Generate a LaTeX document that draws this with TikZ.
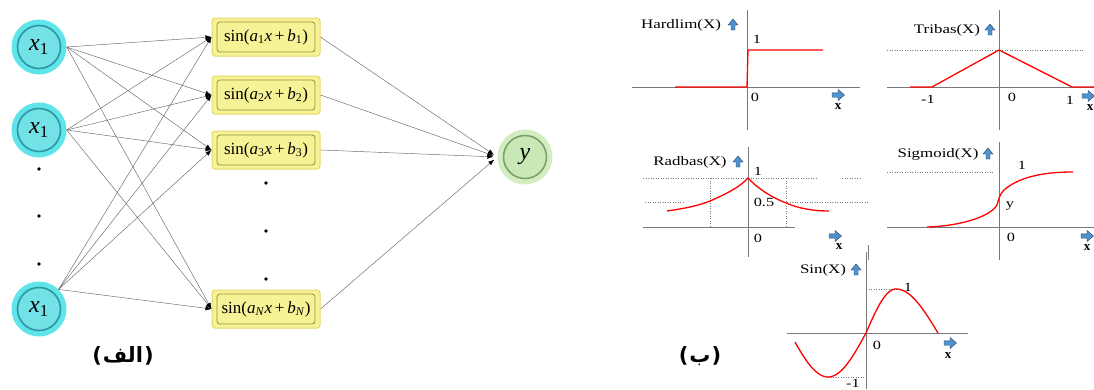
\documentclass[tikz,border=0pt]{standalone}
\usepackage{fontspec}
\setmainfont{Liberation Serif}
\newfontfamily\plotfont[FakeStretch=1.3]{Liberation Serif}
\newfontfamily\arabicfont[Script=Arabic]{DejaVu Sans}
\newfontfamily\parenfont{DejaVu Sans}
\TeXXeTstate=1
\usetikzlibrary{arrows.meta}
\definecolor{cyanout}{RGB}{95,228,234}
\definecolor{cyanin}{RGB}{115,226,230}
\definecolor{cyanring}{RGB}{45,150,160}
\definecolor{grnout}{RGB}{210,238,192}
\definecolor{grnin}{RGB}{200,232,182}
\definecolor{grnring}{RGB}{125,160,110}
\definecolor{yelfill}{RGB}{246,242,150}
\definecolor{yelborder}{RGB}{228,218,105}
\definecolor{yelinner}{RGB}{150,140,60}
\definecolor{arrblue}{RGB}{80,145,205}
\definecolor{arrdark}{RGB}{35,65,105}
\definecolor{axisgray}{RGB}{120,120,120}
\begin{document}
\begin{tikzpicture}[x=1pt,y=-1pt,
  innode/.style={circle, minimum size=55pt, inner sep=0pt, fill=cyanout,
    font=\fontsize{24}{24}\selectfont,
    path picture={\draw[cyanring, line width=1.6pt, fill=cyanin] (path picture bounding box.center) circle[radius=21.5pt];}},
  outnode/.style={circle, minimum size=55pt, inner sep=0pt, fill=grnout,
    font=\fontsize{24}{24}\selectfont,
    path picture={\draw[grnring, line width=1.6pt, fill=grnin] (path picture bounding box.center) circle[radius=21.5pt];}},
  hidbox/.style={rectangle, rounded corners=3pt, minimum width=108pt, minimum height=38pt,
    inner sep=0pt, fill=yelfill, draw=yelborder, line width=1pt,
    font=\fontsize{17}{17}\selectfont,
    path picture={\draw[yelinner, line width=0.8pt] ([xshift=5pt,yshift=-4pt]path picture bounding box.north west) rectangle ([xshift=-5pt,yshift=4pt]path picture bounding box.south east);}},
  conn/.style={draw=black!60, line width=0.45pt, -{Latex[length=6pt,width=4.5pt,color=black]}},
  netdot/.style={fill=black},
  axisline/.style={draw=axisgray, line width=0.7pt},
  dotline/.style={draw=axisgray, line width=0.5pt, dotted},
  redcurve/.style={draw=red, line width=1.3pt},
  plotlabel/.style={font=\plotfont\fontsize{13}{13}\selectfont, inner sep=0pt},
  numlabel/.style={font=\plotfont\fontsize{12.5}{12.5}\selectfont, inner sep=0pt},
  xlab/.style={font=\bfseries\fontsize{13}{13}\selectfont, inner sep=0pt},
  arlab/.style={font=\bfseries\fontsize{21}{21}\selectfont, inner sep=0pt},
  uparr/.pic={\filldraw[fill=arrblue, draw=arrdark, line width=0.4pt]
     (-2,5) -- (-2,0) -- (-5,0) -- (0,-6) -- (5,0) -- (2,0) -- (2,5) -- cycle;},
  rtarr/.pic={\filldraw[fill=arrblue, draw=arrdark, line width=0.4pt]
     (-6,-2.2) -- (0,-2.2) -- (0,-5.5) -- (6.5,0) -- (0,5.5) -- (0,2.2) -- (-6,2.2) -- cycle;}
]
\useasboundingbox (0,0) rectangle (1094,389);
\clip (0,0) rectangle (1094,389);

% ---------------- network (alef) ----------------
\node[innode] (i1) at (39,47) {\textit{x}\textsubscript{1}};
\node[innode] (i2) at (39,130) {\textit{x}\textsubscript{1}};
\node[innode] (i3) at (39,309) {\textit{x}\textsubscript{1}};

\node[hidbox] (b1) at (266,37) {sin(\textit{a}\textsubscript{1}\textit{x}\,+\,\textit{b}\textsubscript{1})};
\node[hidbox] (b2) at (266,95) {sin(\textit{a}\textsubscript{2}\textit{x}\,+\,\textit{b}\textsubscript{2})};
\node[hidbox] (b3) at (266,150) {sin(\textit{a}\textsubscript{3}\textit{x}\,+\,\textit{b}\textsubscript{3})};
\node[hidbox] (bN) at (266,309) {sin(\textit{a}\textsubscript{\textit{N}}\textit{x}\,+\,\textit{b}\textsubscript{\textit{N}})};

\node[outnode] (out) at (525,157) {\textit{y}};

\foreach \b in {b1,b2,b3,bN}{
  \draw[conn] (i1.east) -- (\b.west);
  \draw[conn] (i2.east) -- (\b.west);
  \draw[conn] (i3.45) -- (\b.west);
  \draw[conn, shorten >=4pt] (\b.east) -- (out.west);
}

\foreach \yy in {169,216,264}{\fill[netdot] (39,\yy) circle[radius=1.8];}
\foreach \yy in {183,231,279}{\fill[netdot] (266,\yy) circle[radius=1.8];}

\node[arlab] (alef) at (123,356) {\parenfont(\kern1pt{\arabicfont\beginR الف\endR}\kern1pt\parenfont)};

% ---------------- Hardlim ----------------
\draw[axisline] (632,87) -- (860,87);
\draw[axisline] (747,10) -- (747,130);
\draw[redcurve] (675,87) -- (747,87) -- (748,50) -- (823,50);
\node[plotlabel] (hlab) at (681,25) {Hardlim(X)};
\pic at (733,25) {uparr};
\node[numlabel] (h1) at (757,39) {1};
\node[numlabel] (h0) at (755,97) {0};
\pic at (838,95) {rtarr};
\node[xlab] (hx) at (838,107) {x};

% ---------------- Tribas ----------------
\draw[axisline] (887,87) -- (1094,87);
\draw[axisline] (999,10) -- (999,130);
\draw[dotline] (887,50) -- (1083,50);
\draw[redcurve] (910,87) -- (932,87) -- (999,50) -- (1072,87) -- (1094,87);
\node[plotlabel] (tlab) at (947,30) {Tribas(X)};
\pic at (990,30) {uparr};
\node[numlabel] (tm1) at (928,99) {-1};
\node[numlabel] (t0) at (1012,97) {0};
\node[numlabel] (t1) at (1070,100) {1};
\pic at (1088,96) {rtarr};
\node[xlab] (tx) at (1090,108) {x};

% ---------------- Radbas ----------------
\draw[axisline] (643,227) -- (795,227);
\draw[axisline] (748,147) -- (748,257);
\draw[dotline] (643,178) -- (817,178);
\draw[dotline] (842,178) -- (860,178);
\draw[dotline] (645,202) -- (685,202);
\draw[dotline] (787,202) -- (868,202);
\draw[dotline] (710,178) -- (710,227);
\draw[dotline] (786,178) -- (786,227);
\draw[redcurve] (667,211) .. controls (688,208) and (700,205) .. (710,201)
   .. controls (726,194) and (740,187) .. (748,178)
   .. controls (757,188) and (771,197) .. (786,203)
   .. controls (800,209) and (815,211) .. (829,211);
\node[plotlabel] (rlab) at (690,162) {Radbas(X)};
\pic at (738,162) {uparr};
\node[numlabel] (r1) at (758,171) {1};
\node[numlabel] (r05) at (764,202) {0.5};
\node[numlabel] (r0) at (758,238) {0};
\pic at (835,236) {rtarr};
\node[xlab] (rx) at (839,247) {x};
\draw[axisline] (868,245) -- (868,260);

% ---------------- Sigmoid ----------------
\draw[axisline] (887,227) -- (1094,227);
\draw[axisline] (999,142) -- (999,260);
\draw[dotline] (887,172) -- (993,172);
\draw[redcurve] (927,227) .. controls (960,226) and (990,217) .. (997,205)
   .. controls (999,198) and (1000,194) .. (1004,190)
   .. controls (1018,178) and (1040,172) .. (1073,172);
\node[plotlabel] (slab) at (938,154) {Sigmoid(X)};
\pic at (988,154) {uparr};
\node[numlabel] (s1) at (1022,165) {1};
\node[numlabel] (sy) at (1010,206) {y};
\node[numlabel] (s0) at (1011,237) {0};
\pic at (1087,236) {rtarr};
\node[xlab] (sx) at (1087,248) {x};

% ---------------- Sin ----------------
\draw[axisline] (787,333) -- (968,333);
\draw[axisline] (866,252) -- (866,389);
\draw[dotline] (866,289) -- (898,289);
\draw[dotline] (828,377) -- (866,377);
\draw[redcurve] plot[domain=795:866, samples=40, smooth] (\x, {333-44*sin(180*(\x-866)/76)})
  -- plot[domain=866:896, samples=25, smooth] (\x, {333-44*sin(90*(\x-866)/30)})
  -- plot[domain=896:938, samples=30, smooth] (\x, {333-44*cos(90*(\x-896)/42)});
\node[plotlabel] (sinlab) at (823,270) {Sin(X)};
\pic at (856,270) {uparr};
\node[numlabel] (sn1) at (908,287) {1};
\node[numlabel] (sn0) at (877,345) {0};
\node[numlabel] (snm1) at (853,383) {-1};
\pic at (950,343) {rtarr};
\node[xlab] (snx) at (948,356) {x};

\node[arlab] (be) at (700,356) {\parenfont(\kern1pt{\arabicfont\beginR ب\endR}\kern1pt\parenfont)};
\end{tikzpicture}
\end{document}
